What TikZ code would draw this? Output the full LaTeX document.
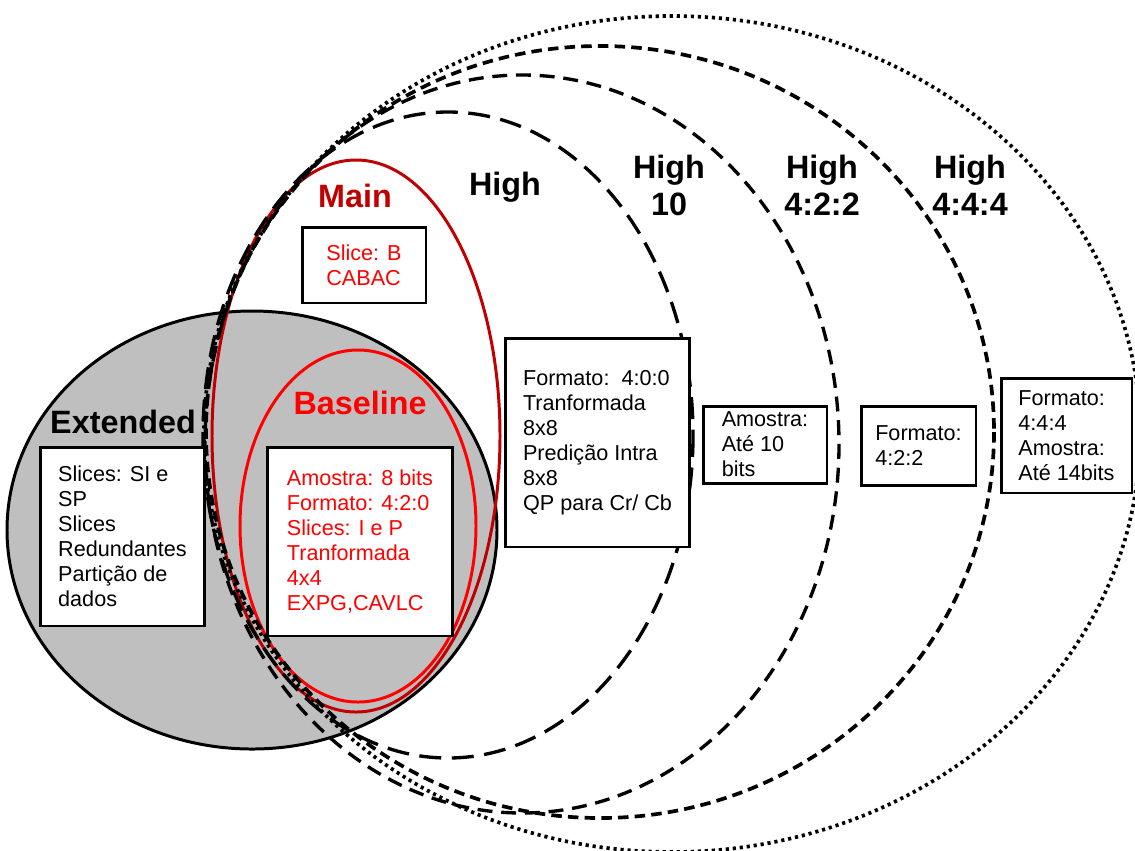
\documentclass[tikz,border=0pt]{standalone}
\usepackage{fontspec}
\setmainfont{Liberation Sans}
\definecolor{mainred}{HTML}{C00000}
\definecolor{basered}{HTML}{FF0000}
\definecolor{extgray}{HTML}{BFBFBF}
\begin{document}
\begin{tikzpicture}[x=0.02cm, y=-0.02cm,
  outline/.style={line width=1.7pt},
  highline/.style={line width=1.9pt, dash pattern=on 12.5pt off 6pt},
  highten/.style={line width=1.9pt, dash pattern=on 8.5pt off 5pt},
  highfourtwo/.style={line width=2.1pt, dash pattern=on 6pt off 3.5pt},
  highfourfour/.style={line width=2.1pt, dash pattern=on 1.8pt off 2.2pt},
  box/.style={draw, line width=1.7pt, fill=white, inner sep=0pt, align=left,
    font=\fontsize{12.3}{14.2}\selectfont},
  lbl/.style={font=\bfseries\fontsize{18.4}{21}\selectfont, align=center, inner sep=0pt}]
\useasboundingbox (0,0) rectangle (1135,850);
\clip (0,0) rectangle (1135,850);

% Extended profile
\draw[outline, fill=extgray] (252,530) ellipse [x radius=245, y radius=219];
% Main and Baseline profiles
\draw[outline, draw=mainred] (356,436) ellipse [x radius=144, y radius=276];
\draw[outline, draw=basered] (358,526) ellipse [x radius=118, y radius=176];
% High profile family
\draw[highline] (448,435) ellipse [x radius=245, y radius=323];
\draw[highten] (522,444) ellipse [x radius=317, y radius=369];
\draw[highfourtwo] (600,432) ellipse [x radius=394, y radius=386];
\draw[highfourfour] (672,434) ellipse [x radius=468, y radius=418];

% Profile names (two-line names sit on the baseline of their last line)
\node[lbl, text=mainred, anchor=base] (lmain) at (355,207) {Main};
\node[lbl, anchor=base] (lhigh) at (505,195) {High};
\node[lbl, anchor=base] (lhighten) at (669,215) {High\\10};
\node[lbl, anchor=base] (lhighfourtwo) at (822,215) {High\\4:2:2};
\node[lbl, anchor=base] (lhighfourfour) at (970,215) {High\\4:4:4};
\node[lbl, anchor=base] (lext) at (123,433) {Extended};
\node[lbl, text=basered, anchor=base] (lbase) at (360,414) {Baseline};

% Feature boxes
\node[box, minimum width=3.30cm, minimum height=3.58cm] (bext) at (122.5,536.5)
  {Slices: SI e\\SP\\Slices\\Redundantes\\Partição de\\dados};
\node[box, text=basered, minimum width=3.72cm, minimum height=3.78cm] (bbase) at (360,541.5)
  {Amostra: 8 bits\\Formato: 4:2:0\\Slices: I e P\\Tranformada\\4x4\\EXPG,CAVLC};
\node[box, text=basered, minimum width=2.48cm, minimum height=1.52cm] (bmain) at (364,265)
  {Slice: B\\CABAC};
\node[box, minimum width=3.70cm, minimum height=4.18cm] (bhigh) at (597.5,442.5)
  {Formato:\ \ 4:0:0\\Tranformada\\8x8\\Predição Intra\\8x8\\QP para Cr/ Cb};
\node[box, minimum width=2.48cm, minimum height=1.54cm] (bhighten) at (765,444.5)
  {Amostra:\\Até 10\\bits};
\node[box, minimum width=2.30cm, minimum height=1.58cm] (bhighfourtwo) at (918.5,445.5)
  {Formato:\\4:2:2};
\node[box, minimum width=2.62cm, minimum height=2.30cm] (bhighfourfour) at (1066.5,435.5)
  {Formato:\\4:4:4\\Amostra:\\Até 14bits};
\end{tikzpicture}
\end{document}
